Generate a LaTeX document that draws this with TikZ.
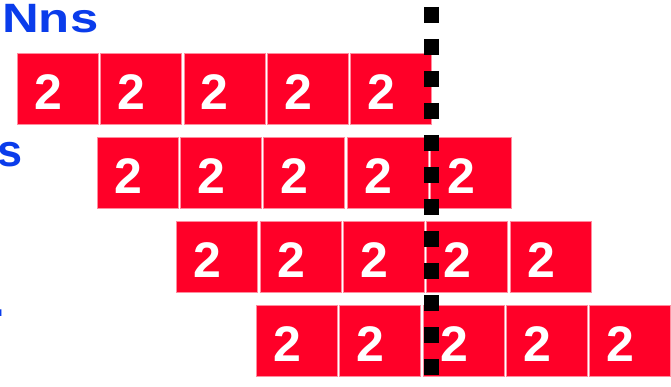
\documentclass[tikz,border=0pt]{standalone}
\usepackage{fontspec}
\setmainfont{Liberation Sans}
\usetikzlibrary{positioning}
\definecolor{cellred}{RGB}{255,0,40}
\definecolor{labelblue}{RGB}{10,60,235}

\begin{document}
\begin{tikzpicture}[x=1pt,y=-1pt,
  cell/.style={fill=cellred, draw=cellred!45!white, line width=0.6pt,
    minimum width=81pt, minimum height=71pt, inner sep=0pt, anchor=north west},
  digit/.style={text=white, font=\fontsize{50}{50}\selectfont\bfseries, inner sep=0pt},
  heading/.style={text=labelblue, inner sep=0pt}]

\useasboundingbox (0,0) rectangle (671,387);

% --- RIGHE DI CELLE ---
\foreach \r in {0,...,3} {
  \foreach \k in {0,...,4} {
    \node[cell] (c\r\k) at ({17+79.7*\r+83.3*\k},{53.3+83.9*\r}) {};
    \node[digit] (d\r\k) at ([xshift=-9.5pt,yshift=-3pt]c\r\k.center) {2};
  }
}

% --- LINEA TRATTEGGIATA ---
\coordinate (top) at (431.5,7);
\coordinate (bot) at (431.5,375);
\draw[line width=15.5pt, dash pattern=on 16pt off 16pt] (top) -- (bot);

% --- TESTI ---
\node[heading, font=\fontsize{41}{41}\selectfont\bfseries, anchor=base west, xscale=1.24] (title) at (2,32.3) {Nns};
\node[heading, font=\fontsize{45}{45}\selectfont\bfseries, anchor=base east] (side) at (22.5,167) {s};
\node[heading, font=\fontsize{45}{45}\selectfont\bfseries, anchor=base east] (dot) at (5.5,316) {.};

\end{tikzpicture}
\end{document}
